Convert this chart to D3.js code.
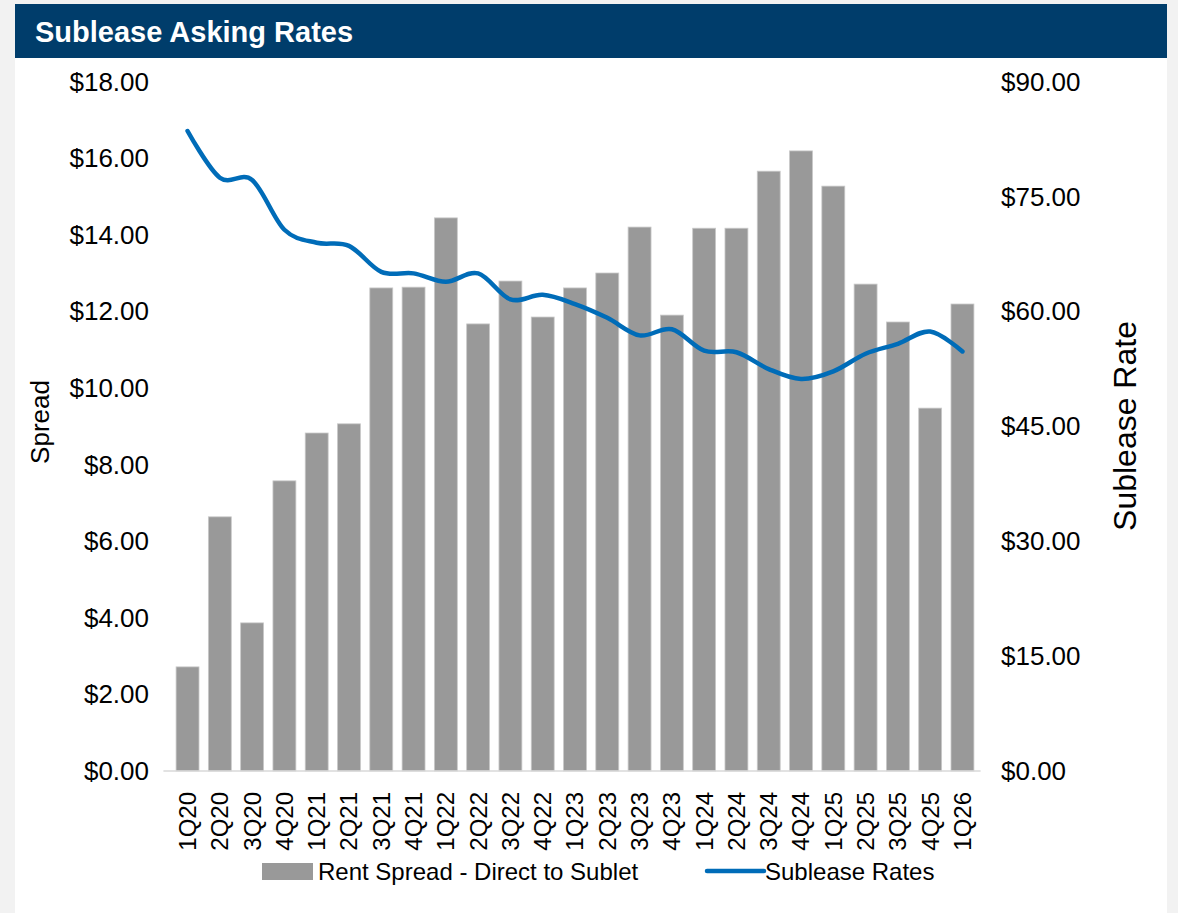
<!DOCTYPE html>
<html>
<head>
<meta charset="utf-8">
<script src="https://cdn.jsdelivr.net/npm/d3@7"></script>
<style>
  body { margin: 0; background: #f2f2f2; font-family: "Liberation Sans", Arial, sans-serif; }
  svg text { font-family: "Liberation Sans", Arial, sans-serif; }
</style>
</head>
<body>
<svg class="chart"></svg>
<script>
var quarters = ["1Q20","2Q20","3Q20","4Q20","1Q21","2Q21","3Q21","4Q21","1Q22","2Q22","3Q22","4Q22",
                "1Q23","2Q23","3Q23","4Q23","1Q24","2Q24","3Q24","4Q24","1Q25","2Q25","3Q25","4Q25","1Q26"];
var rentSpread = [2.72, 6.64, 3.87, 7.58, 8.83, 9.07, 12.62, 12.64, 14.45, 11.68, 12.80, 11.86,
                  12.62, 13.01, 14.21, 11.91, 14.18, 14.18, 15.67, 16.20, 15.28, 12.72, 11.73, 9.48, 12.20];
var subleaseRates = [83.6, 77.5, 77.2, 70.7, 69.0, 68.6, 65.2, 65.0, 63.9, 65.0, 61.6, 62.2,
                     61.0, 59.2, 56.9, 57.7, 54.9, 54.7, 52.5, 51.2, 52.2, 54.5, 55.8, 57.4, 54.8];
var leftTicks = [0, 2, 4, 6, 8, 10, 12, 14, 16, 18];
var rightTicks = [0, 15, 30, 45, 60, 75, 90];

(function show() {
    'use strict';

    var W = 1178, H = 913;
    var plot = { left: 171.4, right: 978.6, top: 82, bottom: 771 };

    var svg = d3.select(".chart")
        .attr("width", W)
        .attr("height", H)
        .style("display", "block");

    // white panel + header
    svg.append("rect").attr("x", 15).attr("y", 4).attr("width", 1152).attr("height", H)
        .attr("fill", "#ffffff");
    svg.append("rect").attr("x", 15).attr("y", 4).attr("width", 1152).attr("height", 54)
        .attr("fill", "#003d6b");
    svg.append("text").attr("x", 35).attr("y", 42)
        .attr("fill", "#ffffff").attr("font-size", 29).attr("font-weight", "bold")
        .text("Sublease Asking Rates");

    var x = d3.scaleBand().domain(quarters)
        .range([plot.left, plot.right]).paddingInner(0.29).paddingOuter(0.145);
    var yL = d3.scaleLinear().domain([0, 18]).range([plot.bottom, plot.top]);
    var yR = d3.scaleLinear().domain([0, 90]).range([plot.bottom, plot.top]);

    // bars
    svg.append("g").selectAll("rect").data(rentSpread).enter().append("rect")
        .attr("x", function(d, i) { return x(quarters[i]); })
        .attr("width", x.bandwidth())
        .attr("y", function(d) { return yL(d); })
        .attr("height", function(d) { return yL(0) - yL(d); })
        .attr("fill", "#999999")
        .attr("stroke", "#c9c9c9")
        .attr("stroke-width", 0.8);

    // baseline
    svg.append("line")
        .attr("x1", plot.left - 8).attr("x2", plot.right + 2)
        .attr("y1", yL(0)).attr("y2", yL(0))
        .attr("stroke", "#d9d9d9").attr("stroke-width", 1.5);

    var money = function(d) { return "$" + d3.format(".2f")(d); };

    // left axis
    var axL = svg.append("g").attr("transform", "translate(149,0)")
        .call(d3.axisLeft(yL).tickValues(leftTicks).tickSize(0).tickPadding(0).tickFormat(money));
    axL.select(".domain").remove();
    axL.selectAll("text").attr("font-size", 26).attr("fill", "#000")
        .style("font-family", "'Liberation Sans', Arial, sans-serif");

    // right axis
    var axR = svg.append("g").attr("transform", "translate(1001,0)")
        .call(d3.axisRight(yR).tickValues(rightTicks).tickSize(0).tickPadding(0).tickFormat(money));
    axR.select(".domain").remove();
    axR.selectAll("text").attr("font-size", 26).attr("fill", "#000")
        .style("font-family", "'Liberation Sans', Arial, sans-serif");

    // bottom axis, rotated labels
    var axB = svg.append("g").attr("transform", "translate(0," + (plot.bottom + 21) + ")")
        .call(d3.axisBottom(x).tickSize(0).tickPadding(0));
    axB.select(".domain").remove();
    axB.selectAll("text")
        .attr("font-size", 24).attr("fill", "#000")
        .style("font-family", "'Liberation Sans', Arial, sans-serif")
        .attr("text-anchor", "end")
        .attr("dy", "0.35em")
        .attr("y", 0)
        .attr("transform", "rotate(-90)");

    // axis titles
    svg.append("text")
        .attr("transform", "translate(49,422) rotate(-90)")
        .attr("text-anchor", "middle").attr("font-size", 26).text("Spread");
    svg.append("text")
        .attr("transform", "translate(1136,426) rotate(-90)")
        .attr("text-anchor", "middle").attr("font-size", 32).text("Sublease Rate");

    // line
    var line = d3.line()
        .x(function(d, i) { return x(quarters[i]) + x.bandwidth() / 2; })
        .y(function(d) { return yR(d); })
        .curve(d3.curveCatmullRom.alpha(0));
    svg.append("path").datum(subleaseRates)
        .attr("d", line)
        .attr("fill", "none")
        .attr("stroke", "#006cb8")
        .attr("stroke-width", 4.5)
        .attr("stroke-linecap", "round");

    // legend
    var lg = svg.append("g");
    lg.append("rect").attr("x", 262).attr("y", 863).attr("width", 51).attr("height", 17).attr("fill", "#999999");
    lg.append("text").attr("x", 318).attr("y", 880).attr("font-size", 24).text("Rent Spread - Direct to Sublet");
    lg.append("line").attr("x1", 707).attr("x2", 764).attr("y1", 871).attr("y2", 871)
        .attr("stroke", "#006cb8").attr("stroke-width", 4.5).attr("stroke-linecap", "round");
    lg.append("text").attr("x", 765).attr("y", 880).attr("font-size", 24).text("Sublease Rates");
})();
</script>
</body>
</html>
